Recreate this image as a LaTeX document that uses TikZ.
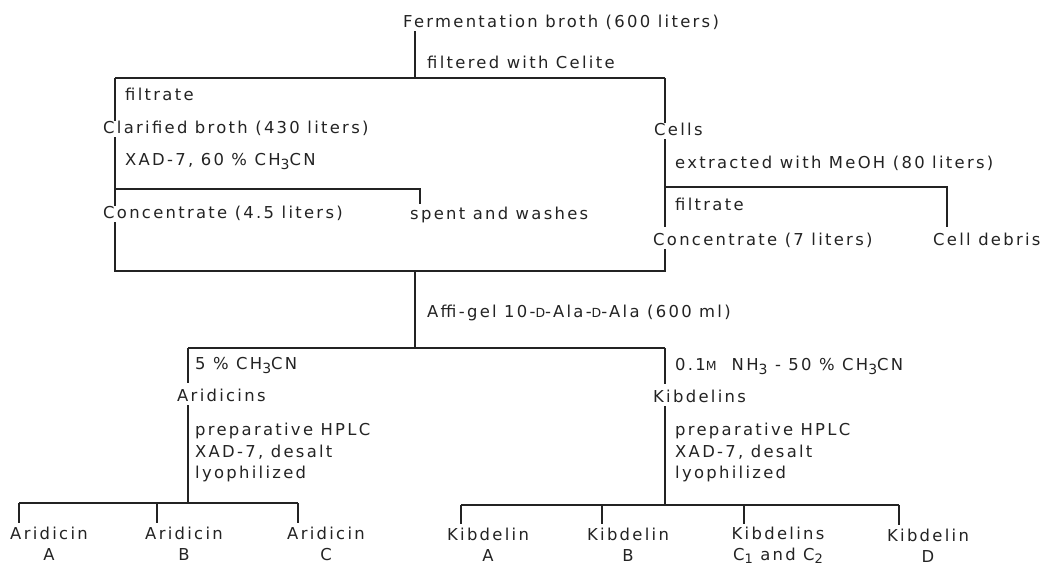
\documentclass[tikz,border=0pt]{standalone}
\usepackage{fontspec}
\setmainfont{DejaVu Sans}[LetterSpace=14]
\definecolor{ink}{RGB}{35,35,35}
\newcommand{\lowsub}[1]{\raisebox{-4.5pt}{\fontsize{14}{14}\selectfont #1}}
\newcommand{\lowsubb}[1]{\raisebox{-2.5pt}{\fontsize{13}{13}\selectfont #1}}
\newcommand{\smcap}[1]{{\fontsize{12.5}{12.5}\selectfont #1}}
\newcommand{\mainfnt}{\fontsize{16.4}{21.5}\selectfont}
\newcommand{\leaffnt}{\fontsize{16.4}{21}\selectfont}
\tikzset{
  lbl/.style={anchor=base west, inner sep=0pt, text height=12pt, text depth=4pt, font=\mainfnt, text=ink},
  blk/.style={anchor=north west, inner sep=0pt, align=left, font=\mainfnt, text=ink},
  leaf/.style={anchor=north, inner sep=0pt, align=center, font=\leaffnt, text=ink},
  ln/.style={draw=ink, line width=1.1pt}
}
\begin{document}
\begin{tikzpicture}[x=1pt,y=-1pt]
\fill[white] (0,0) rectangle (1048,566);
\useasboundingbox (0,0) rectangle (1048,566);

% top
\node[lbl] (ferm) at (403,27) {Fermentation broth (600 liters)};
\node[lbl] (celite) at (427,68) {filtered with Celite};
\coordinate (j1) at (415,78);
\coordinate (j1l) at (115,78);
\coordinate (j1r) at (665,78);
\draw[ln] (ferm.south -| j1) -- (j1);
\draw[ln] (j1l) -- (j1r);

% left branch
\node[lbl] (filt1) at (125,100) {filtrate};
\node[lbl] (clar) at (103,133) {Clarified broth (430 liters)};
\draw[ln] (j1l) -- (clar.north -| j1l);
\node[lbl] (xad) at (125,165) {XAD-7, 60 \% CH\lowsub{3}CN};
\coordinate (j2) at (115,189);
\coordinate (j2r) at (420,189);
\node[lbl] (conc1) at (103,218) {Concentrate (4.5 liters)};
\node[lbl] (spent) at (410,219) {spent and washes};
\draw[ln] (clar.south -| j2) -- (conc1.north -| j2);
\draw[ln, shorten >=3pt] (j2) -- (j2r) -- (spent.north -| j2r);

% right branch
\node[lbl] (cells) at (654,135) {Cells};
\draw[ln] (j1r) -- (cells.north -| j1r);
\node[lbl] (extr) at (675,168) {extracted with MeOH (80 liters)};
\coordinate (j3) at (665,187);
\coordinate (j3r) at (947,187);
\node[lbl] (filt2) at (675,210) {filtrate};
\node[lbl] (conc2) at (653,245) {Concentrate (7 liters)};
\node[lbl] (debris) at (933,245) {Cell debris};
\draw[ln, shorten >=6pt] (cells.south -| j3) -- (conc2.north -| j3);
\draw[ln, shorten >=6pt] (j3) -- (j3r) -- (debris.north -| j3r);

% merge
\coordinate (j4l) at (115,271);
\coordinate (j4) at (415,271);
\coordinate (j4r) at (665,271);
\draw[ln] (conc1.south -| j4l) -- (j4l) -- (j4r) -- (conc2.south -| j4r);
\coordinate (j5) at (415,348);
\draw[ln] (j4) -- (j5);
\node[lbl] (affi) at (427,317) {Affi-gel 10-\smcap{D}-Ala-\smcap{D}-Ala (600 ml)};

\coordinate (j5l) at (188,348);
\coordinate (j5r) at (665,348);
\draw[ln] (j5l) -- (j5r);
\node[lbl] (ch1) at (195,369) {5 \% CH\lowsub{3}CN};
\node[lbl] (nh) at (675,370) {0.1\smcap{M}\ \ NH\lowsub{3} - 50 \% CH\lowsub{3}CN};
\node[lbl] (aridc) at (177,401) {Aridicins};
\node[lbl] (kibc) at (653,402) {Kibdelins};
\draw[ln, shorten >=6pt] (j5l) -- (aridc.north -| j5l);
\draw[ln, shorten >=6pt] (j5r) -- (kibc.north -| j5r);

\node[blk] (hplc1) at (195,423) {preparative HPLC\\XAD-7, desalt\\lyophilized};
\node[blk] (hplc2) at (675,423) {preparative HPLC\\XAD-7, desalt\\lyophilized};

% Aridicin leaves
\coordinate (j6) at (188,503);
\coordinate (j6a) at (19,503);
\coordinate (j6b) at (157,503);
\coordinate (j6c) at (298,503);
\draw[ln] (aridc.south -| j6) -- (j6);
\draw[ln] (j6a) -- (j6c);
\node[leaf] (arA) at (49,526.5) {Aridicin\\A};
\node[leaf] (arB) at (184,526.5) {Aridicin\\B};
\node[leaf] (arC) at (326,526.5) {Aridicin\\C};
\draw[ln, shorten >=4pt] (j6a) -- (arA.north -| j6a);
\draw[ln, shorten >=4pt] (j6b) -- (arB.north -| j6b);
\draw[ln, shorten >=4pt] (j6c) -- (arC.north -| j6c);

% Kibdelin leaves
\coordinate (j7) at (665,505);
\coordinate (j7a) at (461,505);
\coordinate (j7b) at (602,505);
\coordinate (j7c) at (744,505);
\coordinate (j7d) at (899,505);
\draw[ln] (kibc.south -| j7) -- (j7);
\draw[ln] (j7a) -- (j7d);
\node[leaf] (kiA) at (488,528) {Kibdelin\\A};
\node[leaf] (kiB) at (628,528) {Kibdelin\\B};
\node[leaf] (kiC) at (778,527) {Kibdelins\\C\lowsubb{1} and C\lowsubb{2}};
\node[leaf] (kiD) at (928,529) {Kibdelin\\D};
\draw[ln, shorten >=4pt] (j7a) -- (kiA.north -| j7a);
\draw[ln, shorten >=4pt] (j7b) -- (kiB.north -| j7b);
\draw[ln, shorten >=3pt] (j7c) -- (kiC.north -| j7c);
\draw[ln, shorten >=4pt] (j7d) -- (kiD.north -| j7d);
\end{tikzpicture}
\end{document}
